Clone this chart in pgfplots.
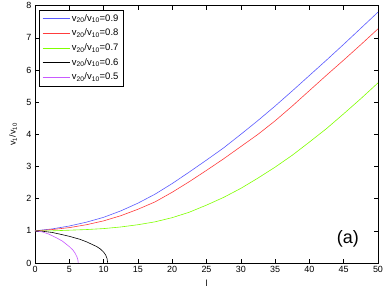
\documentclass[border=0pt]{standalone}
\usepackage{fontspec}
\setmainfont{Liberation Sans}
\usepackage{pgfplots}
\pgfplotsset{compat=1.18}
\definecolor{cblue}{RGB}{90,90,255}
\definecolor{cred}{RGB}{255,60,60}
\definecolor{cgreen}{RGB}{128,255,0}
\definecolor{cmag}{RGB}{200,90,255}
\begin{document}
\begin{tikzpicture}
\useasboundingbox (-35bp,-29bp) rectangle (353bp,263bp);
\begin{axis}[
  at={(0,0)}, anchor=south west,
  scale only axis, width=343bp, height=257.3bp,
  xmin=0, xmax=50, ymin=0, ymax=8,
  xtick={0,5,...,50}, ytick={0,1,...,8},
  tick align=inside, xtick pos=both, ytick pos=both,
  xticklabel pos=lower, yticklabel pos=left,
  major tick length=4bp,
  axis line style={line width=0.7bp},
  every tick/.style={line width=0.5bp, black},
  tick label style={font=\fontsize{9}{10}\selectfont},
  /pgf/number format/assume math mode=true,
  xlabel={l},
  label style={font=\fontsize{9}{10}\selectfont},
  xlabel style={at={(axis description cs:0.5,-0.078)}, anchor=center},
  legend style={at={(axis description cs:0,1)}, xshift=4bp, yshift=-4bp, anchor=north west,
    draw=black, line width=0.6bp, fill=white, font=\fontsize{9.5}{11}\selectfont,
    row sep=2.3bp, inner xsep=3bp, inner ysep=2.5bp},
  legend cell align=left,
  legend image code/.code={\draw[#1] (0bp,0bp) -- (27bp,0bp);},
  every axis plot/.append style={line width=0.6bp},
  clip=false,
]
\addplot[cblue] coordinates {(0,1)(2.5,1.06)(5,1.15)(7.5,1.27)(10,1.42)(12.5,1.62)(15,1.86)(17.5,2.14)(20,2.47)(22.5,2.83)(25,3.2)(27.5,3.58)(30,4.0)(32.5,4.43)(35,4.88)(37.5,5.35)(40,5.83)(42.5,6.31)(45,6.80)(47.5,7.30)(50,7.8)};
\addlegendentry{v\textsubscript{20}/v\textsubscript{10}=0.9}
\addplot[cred] coordinates {(0,1)(2.5,1.04)(5,1.10)(7.5,1.19)(10,1.31)(12.5,1.47)(15,1.67)(17.5,1.90)(20,2.20)(22.5,2.53)(25,2.88)(27.5,3.24)(30,3.62)(32.5,4.00)(35,4.42)(37.5,4.88)(40,5.36)(42.5,5.84)(45,6.31)(47.5,6.79)(50,7.28)};
\addlegendentry{v\textsubscript{20}/v\textsubscript{10}=0.8}
\addplot[cgreen] coordinates {(0,1)(2.5,1.0)(5,1.02)(7.5,1.04)(10,1.07)(12.5,1.12)(15,1.19)(17.5,1.28)(20,1.41)(22.5,1.58)(25,1.80)(27.5,2.04)(30,2.32)(32.5,2.64)(35,2.98)(37.5,3.35)(40,3.76)(42.5,4.18)(45,4.64)(47.5,5.11)(50,5.6)};
\addlegendentry{v\textsubscript{20}/v\textsubscript{10}=0.7}
\addplot[black] coordinates {(0,1)(1,0.99)(2.5,0.95)(4,0.88)(5,0.83)(6.5,0.74)(7.5,0.66)(8.5,0.56)(9,0.51)(9.5,0.44)(10,0.34)(10.3,0.25)(10.5,0.14)(10.6,0)};
\addlegendentry{v\textsubscript{20}/v\textsubscript{10}=0.6}
\addplot[cmag] coordinates {(0,1)(1,0.97)(2,0.9)(3.16,0.78)(4,0.68)(5,0.51)(5.5,0.41)(5.8,0.32)(6.1,0.2)(6.25,0.1)(6.3,0)};
\addlegendentry{v\textsubscript{20}/v\textsubscript{10}=0.5}
\node[font=\fontsize{18}{20}\selectfont] at (axis cs:45.6,0.75) {(a)};
\node[font=\fontsize{9}{10}\selectfont, rotate=90] at (axis description cs:-0.064,0.5) {v\textsubscript{1}/v\textsubscript{10}};
\end{axis}
\end{tikzpicture}
\end{document}
